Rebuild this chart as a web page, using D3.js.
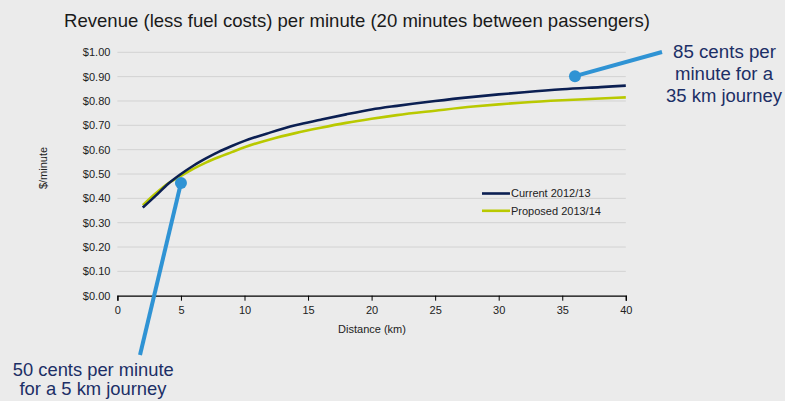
<!DOCTYPE html>
<html><head><meta charset="utf-8">
<script src="https://cdn.jsdelivr.net/npm/d3@7"></script>
<style>
html,body{margin:0;padding:0;background:#ebebeb;}
svg{display:block;}
</style></head>
<body>
<script>
const distances = [2,3,4,5,6,7,8,9,10,12,14,16,18,20,22,25,28,30,32,35,38,40];
const currentValues = [0.362,0.41,0.46,0.50,0.535,0.565,0.592,0.615,0.636,0.67,0.70,0.723,0.745,0.765,0.78,0.80,0.817,0.827,0.836,0.848,0.857,0.863];
const proposedValues = [0.372,0.42,0.462,0.492,0.522,0.548,0.57,0.59,0.61,0.642,0.668,0.69,0.71,0.727,0.742,0.76,0.777,0.786,0.794,0.803,0.81,0.815];
const seriesNames = ["Current 2012/13","Proposed 2013/14"];
const xTicks = [0,5,10,15,20,25,30,35,40];
const yTicks = [0,0.1,0.2,0.3,0.4,0.5,0.6,0.7,0.8,0.9,1.0];
const titleText = "Revenue (less fuel costs) per minute (20 minutes between passengers)";
const yLabel = "$/minute";
const xLabel = "Distance (km)";
const callout1 = {x:5, y:0.463, lines:["50 cents per minute","for a 5 km journey"]};
const callout2 = {x:36, y:0.902, lines:["85 cents per","minute for a","35 km journey"]};

const W=785,H=401;
const svg=d3.select("body").append("svg").attr("width",W).attr("height",H);
svg.append("rect").attr("width",W).attr("height",H).attr("fill","#ebebeb");

const x=d3.scaleLinear().domain([0,40]).range([117.4,625.8]);
const y=d3.scaleLinear().domain([0,1]).range([295.7,52.3]);
const tickFont="'Liberation Sans Narrow','Arial Narrow',Arial,sans-serif";
const mainFont="'Liberation Sans',Arial,sans-serif";

// grid
svg.append("g").selectAll("line").data(yTicks.filter(d=>d>0)).join("line")
  .attr("x1",x(0)).attr("x2",x(40)).attr("y1",d=>y(d)).attr("y2",d=>y(d))
  .attr("stroke","#d2d2d2").attr("stroke-width",1);

// y axis labels
const yAxis=d3.axisLeft(y).tickValues(yTicks).tickFormat(d=>"$"+d.toFixed(2)).tickSize(0).tickPadding(7);
const gy=svg.append("g").attr("transform",`translate(${x(0)},0)`).call(yAxis);
gy.select(".domain").remove();
gy.selectAll("text").attr("font-family",tickFont).attr("font-size",11).attr("fill","#222");

// x axis
const xAxis=d3.axisBottom(x).tickValues(xTicks).tickSize(5).tickPadding(6);
const gx=svg.append("g").attr("transform",`translate(0,${y(0)})`).call(xAxis);
gx.select(".domain").attr("stroke","#000").attr("stroke-width",1.3);
gx.selectAll(".tick line").attr("stroke","#000");
gx.selectAll("text").attr("font-family",tickFont).attr("font-size",11).attr("fill","#222");

// labels
svg.append("text").attr("x",64).attr("y",27).attr("font-family",mainFont)
  .attr("font-size",19).attr("fill","#1a1a1a")
  .attr("textLength",586).attr("lengthAdjust","spacingAndGlyphs").text(titleText);
svg.append("text").attr("transform",`translate(47,168) rotate(-90)`).attr("text-anchor","middle")
  .attr("font-family",tickFont).attr("font-size",11).attr("fill","#222").text(yLabel);
svg.append("text").attr("x",372).attr("y",333).attr("text-anchor","middle")
  .attr("font-family",tickFont).attr("font-size",11).attr("fill","#222").text(xLabel);

// lines
const line=d3.line().x((d,i)=>x(distances[i])).y(d=>y(d)).curve(d3.curveMonotoneX);
const colors=["#0b1f52","#b9c900"];
svg.append("path").attr("d",line(proposedValues)).attr("fill","none").attr("stroke",colors[1]).attr("stroke-width",2.6);
svg.append("path").attr("d",line(currentValues)).attr("fill","none").attr("stroke",colors[0]).attr("stroke-width",2.6);

// legend
const lg=svg.append("g");
seriesNames.forEach((n,i)=>{
  const yy=193.5+i*17.3;
  lg.append("line").attr("x1",482).attr("x2",510).attr("y1",yy).attr("y2",yy).attr("stroke",colors[i]).attr("stroke-width",2.6);
  lg.append("text").attr("x",511).attr("y",yy+3.8).attr("font-family",tickFont).attr("font-size",11).attr("fill","#222").text(n);
});

// callouts
const blue="#2f93d4", navy="#1c2f66";
svg.append("line").attr("x1",x(callout1.x)).attr("y1",y(callout1.y)).attr("x2",140).attr("y2",355)
  .attr("stroke",blue).attr("stroke-width",4);
svg.append("circle").attr("cx",x(callout1.x)).attr("cy",y(callout1.y)).attr("r",6).attr("fill",blue);
svg.append("line").attr("x1",x(callout2.x)).attr("y1",y(callout2.y)).attr("x2",662).attr("y2",52)
  .attr("stroke",blue).attr("stroke-width",4);
svg.append("circle").attr("cx",x(callout2.x)).attr("cy",y(callout2.y)).attr("r",6).attr("fill",blue);

const c1w=[161,147], c1x=[93.3,93], c1y=[376,395];
callout1.lines.forEach((t,i)=>{
  svg.append("text").attr("x",c1x[i]).attr("y",c1y[i]).attr("text-anchor","middle")
    .attr("font-family",mainFont).attr("font-size",18.5).attr("fill",navy)
    .attr("textLength",c1w[i]).attr("lengthAdjust","spacingAndGlyphs").text(t);
});
const c2w=[103,98,116], c2x=[724.5,724,724], c2y=[58.3,80,101.7];
callout2.lines.forEach((t,i)=>{
  svg.append("text").attr("x",c2x[i]).attr("y",c2y[i]).attr("text-anchor","middle")
    .attr("font-family",mainFont).attr("font-size",17.5).attr("fill",navy)
    .attr("textLength",c2w[i]).attr("lengthAdjust","spacingAndGlyphs").text(t);
});
</script>
</body></html>
